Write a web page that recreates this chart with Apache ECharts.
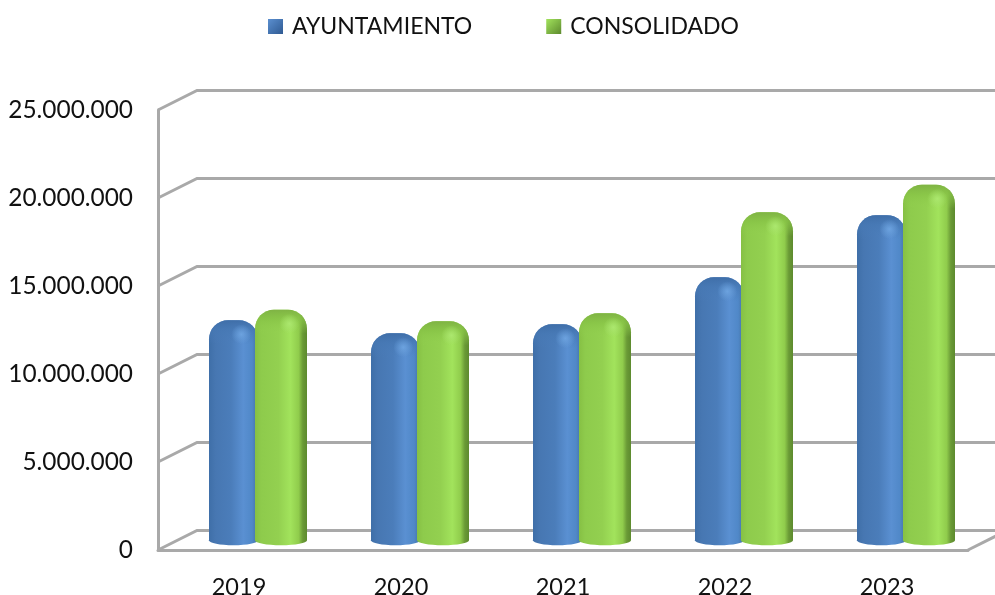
<!DOCTYPE html>
<html><head><meta charset="utf-8">
<style>html,body{margin:0;padding:0;background:#fff}#c{width:995px;height:595px}</style>
<script src="https://cdn.jsdelivr.net/npm/echarts@6/dist/echarts.min.js"></script>
</head><body><div id="c"></div>
<script>
const categories = ['2019','2020','2021','2022','2023'];
const ayuntamiento = [12500000,11760000,12270000,14940000,18470000];
const consolidado = [13100000,12440000,12900000,18640000,20200000];
const ticks = [0,5000000,10000000,15000000,20000000,25000000];
const DEPTH_X = 39, DEPTH_Y = 19.5, LINE = '#a9a9a9';
const FONT = 'Lato';

function fmt(v){ return String(v).replace(/\B(?=(\d{3})+$)/g,'.'); }
function hGrad(stops){ return {type:'linear',x:0,y:0,x2:1,y2:0,colorStops:stops.map(s=>({offset:s[0],color:s[1]}))}; }
function vGrad(stops){ return {type:'linear',x:0,y:0,x2:0,y2:1,colorStops:stops.map(s=>({offset:s[0],color:s[1]}))}; }

const blueTheme = {
  left:-30, right:19,
  body:hGrad([[0,'#3f6fa8'],[0.14,'#4777b2'],[0.45,'#4b7dba'],[0.7,'#5a90d2'],[0.88,'#5088c8'],[1,'#44709f']]),
  top:vGrad([[0,'#3f6ea8'],[0.4,'rgba(70,120,180,0.7)'],[1,'rgba(75,125,186,0)']]),
  glow:'rgba(115,170,230,0.8)'
};
const greenTheme = {
  left:16, right:68,
  body:hGrad([[0,'#86c044'],[0.12,'#8ecb4c'],[0.45,'#93d050'],[0.68,'#a2e35c'],[0.84,'#90cc4c'],[0.92,'#6a9a36'],[1,'#5d8a2e']]),
  top:vGrad([[0,'#7fb344'],[0.4,'rgba(135,195,70,0.75)'],[1,'rgba(147,208,80,0)']]),
  glow:'rgba(175,235,115,0.85)'
};

function barRender(theme){
  return function(params, api){
    const idx = api.value(0), val = api.value(1);
    const c = api.coord([idx,val]), z = api.coord([idx,0]);
    const x = c[0]+theme.left, w = theme.right-theme.left;
    const top = c[1]-DEPTH_Y/2, base = z[1]-DEPTH_Y/2;
    const r = 19, ry = 5;
    return {type:'group',children:[
      {type:'ellipse',shape:{cx:x+w/2,cy:base,rx:w/2,ry:ry},style:{fill:theme.body}},
      {type:'rect',shape:{x:x,y:top,width:w,height:base-top,r:[r,r,0,0]},style:{fill:theme.body}},
      {type:'rect',shape:{x:x,y:top,width:w,height:24,r:[r,r,0,0]},style:{fill:theme.top}},
      {type:'circle',shape:{cx:x+w*0.66,cy:top+14,r:10},style:{fill:{type:'radial',x:0.5,y:0.5,r:0.5,colorStops:[{offset:0,color:theme.glow},{offset:1,color:theme.glow.replace(/[\d.]+\)$/,'0)')}]}}}
    ]};
  };
}
function wallRender(params, api){
  const v = api.value(1);
  const y = api.coord([0,v])[1];
  const g = params.coordSys;
  const lineStyle = {stroke:LINE,lineWidth:3,fill:null};
  const kids = [
    {type:'polyline',shape:{points:[[g.x,y],[g.x+DEPTH_X,y-DEPTH_Y],[g.x+g.width+DEPTH_X,y-DEPTH_Y]]},style:lineStyle}
  ];
  if(v===0) kids.push({type:'line',shape:{x1:g.x+g.width,y1:y,x2:g.x+g.width+DEPTH_X,y2:y-DEPTH_Y},style:lineStyle});
  return {type:'group',children:kids};
}

const chart = echarts.init(document.getElementById('c'),null,{renderer:'canvas'});
chart.setOption({
  animation:false,
  backgroundColor:'#fff',
  textStyle:{fontFamily:FONT},
  legend:{
    top:10,left:263,itemGap:74,itemWidth:15,itemHeight:15,icon:'rect',
    textStyle:{fontSize:23,color:'#111',fontFamily:FONT,padding:[0,0,0,4]},
    data:[
      {name:'AYUNTAMIENTO',itemStyle:{color:{type:'linear',x:0,y:0,x2:1,y2:1,colorStops:[{offset:0,color:'#5b8fd0'},{offset:1,color:'#2f5a92'}]}}},
      {name:'CONSOLIDADO',itemStyle:{color:{type:'linear',x:0,y:0,x2:1,y2:1,colorStops:[{offset:0,color:'#a2e35c'},{offset:1,color:'#5d8a2e'}]}}}
    ]
  },
  grid:{left:158,width:810,top:110,height:440,outerBoundsMode:'none'},
  xAxis:{type:'category',data:categories,
    axisLine:{show:true,lineStyle:{color:LINE,width:3}},axisTick:{show:false},
    axisLabel:{color:'#111',fontSize:23.5,margin:25,fontFamily:FONT}},
  yAxis:{type:'value',min:0,max:25000000,interval:5000000,
    splitLine:{show:false},
    axisLine:{show:true,lineStyle:{color:LINE,width:3}},axisTick:{show:false},
    axisLabel:{color:'#111',fontSize:24.4,margin:25,fontFamily:FONT,formatter:fmt,padding:[9,0,0,0]}},
  series:[
    {type:'custom',name:'walls',silent:true,z:1,renderItem:wallRender,clip:false,
      data:ticks.map(t=>[0,t]),encode:{x:0,y:1}},
    {type:'custom',name:'AYUNTAMIENTO',z:3,renderItem:barRender(blueTheme),clip:false,
      itemStyle:{color:'#4f81bd'},
      data:ayuntamiento.map((v,i)=>[i,v]),encode:{x:0,y:1}},
    {type:'custom',name:'CONSOLIDADO',z:4,renderItem:barRender(greenTheme),clip:false,
      itemStyle:{color:'#93d050'},
      data:consolidado.map((v,i)=>[i,v]),encode:{x:0,y:1}}
  ]
});
</script></body></html>
